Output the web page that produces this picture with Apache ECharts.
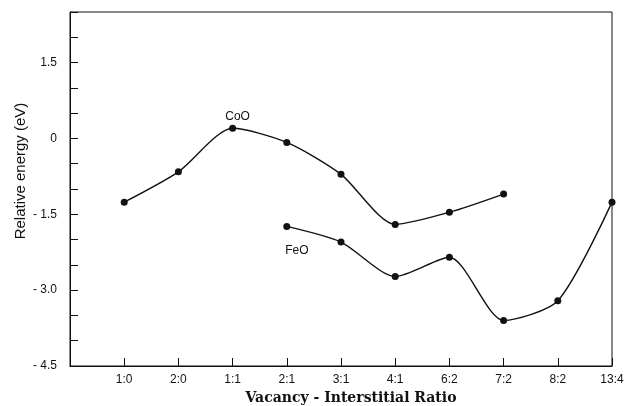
<!DOCTYPE html>
<html>
<head>
<meta charset="utf-8">
<script src="https://cdn.jsdelivr.net/npm/echarts@6/dist/echarts.min.js"></script>
<style>
  html, body { margin: 0; padding: 0; background: #fff; }
  #chart { width: 626px; height: 406px; }
</style>
</head>
<body>
<div id="chart"></div>
<script>
// x categories, placed at positions 1..10
const ratios = ['1:0', '2:0', '1:1', '2:1', '3:1', '4:1', '6:2', '7:2', '8:2', '13:4']

// relative energy (eV)
const cooPos = [1, 2, 3, 4, 5, 6, 7, 8]
const cooEnergy = [-1.26, -0.66, 0.20, -0.08, -0.71, -1.70, -1.46, -1.10]
const feoPos = [4, 5, 6, 7, 8, 9, 10]
const feoEnergy = [-1.74, -2.05, -2.73, -2.35, -3.60, -3.21, -1.26]

const ink = '#111'
const sans = 'Liberation Sans'

let myChart = echarts.init(document.getElementById('chart'))

function pairs (xs, ys, labelIdx, label) {
  return xs.map((x, i) => {
    let d = { value: [x, ys[i]] }
    if (i === labelIdx) d.label = label
    return d
  })
}

let option = {
  animation: false,
  backgroundColor: '#fff',
  grid: {
    left: 70,
    right: 14,
    top: 12,
    bottom: 40,
    containLabel: false,
    outerBoundsMode: 'none',
    show: true,
    borderColor: ink,
    borderWidth: 1
  },
  xAxis: {
    type: 'value',
    min: 0,
    max: 10,
    interval: 1,
    name: 'Vacancy - Interstitial Ratio',
    nameLocation: 'middle',
    nameGap: 25,
    nameMoveOverlap: false,
    nameTextStyle: {
      fontFamily: 'DejaVu Serif',
      fontWeight: 'bold',
      fontSize: 14,
      color: ink,
      padding: [0, 0, 0, 20]
    },
    axisLine: { onZero: false, lineStyle: { color: ink, width: 1 } },
    axisTick: { inside: true, length: 8, lineStyle: { color: ink } },
    splitLine: { show: false },
    axisLabel: {
      color: ink,
      fontFamily: sans,
      fontSize: 12,
      margin: 8,
      formatter: v => (v >= 1 ? ratios[v - 1] : '')
    }
  },
  yAxis: {
    type: 'value',
    min: -4.5,
    max: 2.5,
    interval: 0.5,
    name: 'Relative energy (eV)',
    nameLocation: 'middle',
    nameGap: 42,
    nameMoveOverlap: false,
    nameTextStyle: {
      fontFamily: sans,
      fontSize: 15,
      color: ink,
      padding: [0, 0, 0, 36]
    },
    axisLine: { onZero: false, lineStyle: { color: ink, width: 1 } },
    axisTick: { inside: true, length: 8, lineStyle: { color: ink } },
    splitLine: { show: false },
    axisLabel: {
      color: ink,
      fontFamily: sans,
      fontSize: 12,
      margin: 13,
      formatter: v => {
        let k = v / 1.5
        if (Math.abs(k - Math.round(k)) > 1e-6 || v > 1.5) return ''
        if (Math.abs(v) < 1e-9) return '0'
        return v < 0 ? '- ' + Math.abs(v).toFixed(1) : v.toFixed(1)
      }
    }
  },
  series: [
    {
      name: 'CoO',
      type: 'line',
      smooth: 0.25,
      symbol: 'circle',
      symbolSize: 7,
      itemStyle: { color: ink },
      lineStyle: { color: ink, width: 1.4 },
      data: pairs(cooPos, cooEnergy, 2, {
        show: true,
        formatter: 'CoO',
        position: 'top',
        distance: 2,
        offset: [5, 0],
        color: ink,
        fontFamily: sans,
        fontSize: 12
      })
    },
    {
      name: 'FeO',
      type: 'line',
      smooth: 0.25,
      symbol: 'circle',
      symbolSize: 7,
      itemStyle: { color: ink },
      lineStyle: { color: ink, width: 1.4 },
      data: pairs(feoPos, feoEnergy, 0, {
        show: true,
        formatter: 'FeO',
        position: 'bottom',
        distance: 5,
        offset: [10, 10],
        color: ink,
        fontFamily: sans,
        fontSize: 12
      })
    }
  ]
}
myChart.setOption(option, true)
</script>
</body>
</html>
